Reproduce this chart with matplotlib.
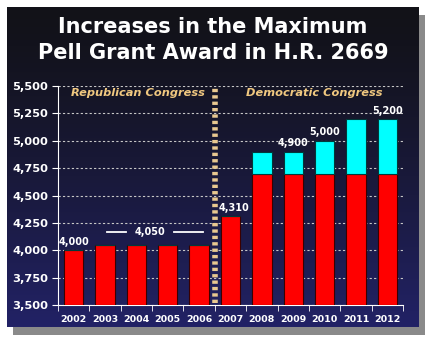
import matplotlib
matplotlib.use("Agg")
import matplotlib.pyplot as plt
import numpy as np
from matplotlib.patches import Rectangle

years = ["2002", "2003", "2004", "2005", "2006", "2007", "2008", "2009", "2010", "2011", "2012"]
base_values = [4000, 4050, 4050, 4050, 4050, 4310, 4700, 4700, 4700, 4700, 4700]
total_values = [4000, 4050, 4050, 4050, 4050, 4310, 4900, 4900, 5000, 5200, 5200]
value_labels = {0: "4,000", 5: "4,310", 7: "4,900", 8: "5,000", 10: "5,200"}
label_shift = {5: 0.12}
y_ticks = [3500, 3750, 4000, 4250, 4500, 4750, 5000, 5250, 5500]
title = "Increases in the Maximum\nPell Grant Award in H.R. 2669"

W, H = 432, 352
fig = plt.figure(figsize=(W / 100, H / 100), dpi=100)
fig.patch.set_facecolor("white")

def fx(px):
    return px / W

def fy(py):
    return 1 - py / H

# shadow
shadow = fig.add_axes([fx(13), fy(335), fx(419 - 7), fy(7) - fy(327)])
shadow.set_axis_off()
shadow.add_patch(Rectangle((0, 0), 1, 1, color="#8a8a8a", transform=shadow.transAxes))

# panel with gradient
panel = fig.add_axes([fx(7), fy(327), fx(419 - 7), fy(7) - fy(327)])
panel.set_axis_off()
grad = np.linspace(0, 1, 256).reshape(-1, 1)
top = np.array([0x12, 0x12, 0x18]) / 255
bot = np.array([0x22, 0x22, 0x66]) / 255
img = top + (bot - top) * grad[..., None] ** 1.3
panel.imshow(img, aspect="auto", extent=[0, 1, 0, 1], origin="upper")
panel.set_xlim(0, 1)
panel.set_ylim(0, 1)

fig.text(fx(213), fy(40), title, ha="center", va="center", color="white",
         fontsize=15, fontweight="bold", family="DejaVu Sans", linespacing=1.4)

ax = fig.add_axes([fx(58), fy(305), fx(403 - 58), fy(86) - fy(305)])
ax.set_facecolor("none")
x = np.arange(len(years))
ext = [t - b for t, b in zip(total_values, base_values)]
ax.bar(x, [b - 3500 for b in base_values], bottom=3500, width=0.62, color="#ff0000",
       edgecolor="#3a0000", linewidth=0.8, zorder=3)
ax.bar(x, ext, bottom=base_values, width=0.62, color="#00ffff",
       edgecolor="#003a3a", linewidth=0.8, zorder=3)
ax.set_xlim(-0.5, len(years) - 0.5)
ax.set_ylim(3500, 5500)
ax.set_yticks(y_ticks)
ax.set_yticklabels([f"{v:,}" for v in y_ticks], color="white", fontsize=8.2, fontweight="bold")
ax.set_xticks(x)
ax.set_xticklabels(years, color="white", fontsize=6.8, fontweight="bold")
ax.tick_params(axis="x", length=0, pad=7)
ax.set_xticks(np.arange(-0.5, len(years)), minor=True)
ax.tick_params(axis="x", which="minor", length=4, color="white", direction="out")
ax.tick_params(axis="y", length=4, color="white", direction="out", pad=3)
for s in ["top", "right"]:
    ax.spines[s].set_visible(False)
ax.spines["left"].set_color("white")
ax.spines["bottom"].set_color("white")
ax.grid(axis="y", color="#c8c8c8", linestyle=(0, (2, 2)), linewidth=0.8, zorder=0)

for i, lab in value_labels.items():
    ax.text(i + label_shift.get(i, 0), total_values[i] + 30, lab, ha="center", va="bottom",
            color="white", fontsize=7, fontweight="bold", zorder=7)

# 4,050 bracket
ax.text(2.43, 4170, "4,050", ha="center", va="center", color="white", fontsize=7,
        fontweight="bold", zorder=5)
ax.plot([1.06, 1.66], [4170, 4170], color="white", lw=1.3, zorder=5)
ax.plot([3.2, 4.12], [4170, 4170], color="white", lw=1.3, zorder=5)

# divider
ax.plot([4.5, 4.5], [3520, 5500], color="#e8c890", lw=4, linestyle=(0, (0.6, 0.55)),
        zorder=6, clip_on=False)

ax.text(2.05, 5436, "Republican Congress", ha="center", va="center", color="#f0c880",
        fontsize=8.2, fontweight="bold", style="italic", zorder=5)
ax.text(7.66, 5436, "Democratic Congress", ha="center", va="center", color="#f0c880",
        fontsize=8.2, fontweight="bold", style="italic", zorder=5)

fig.savefig("out.png", dpi=100, facecolor="white")
